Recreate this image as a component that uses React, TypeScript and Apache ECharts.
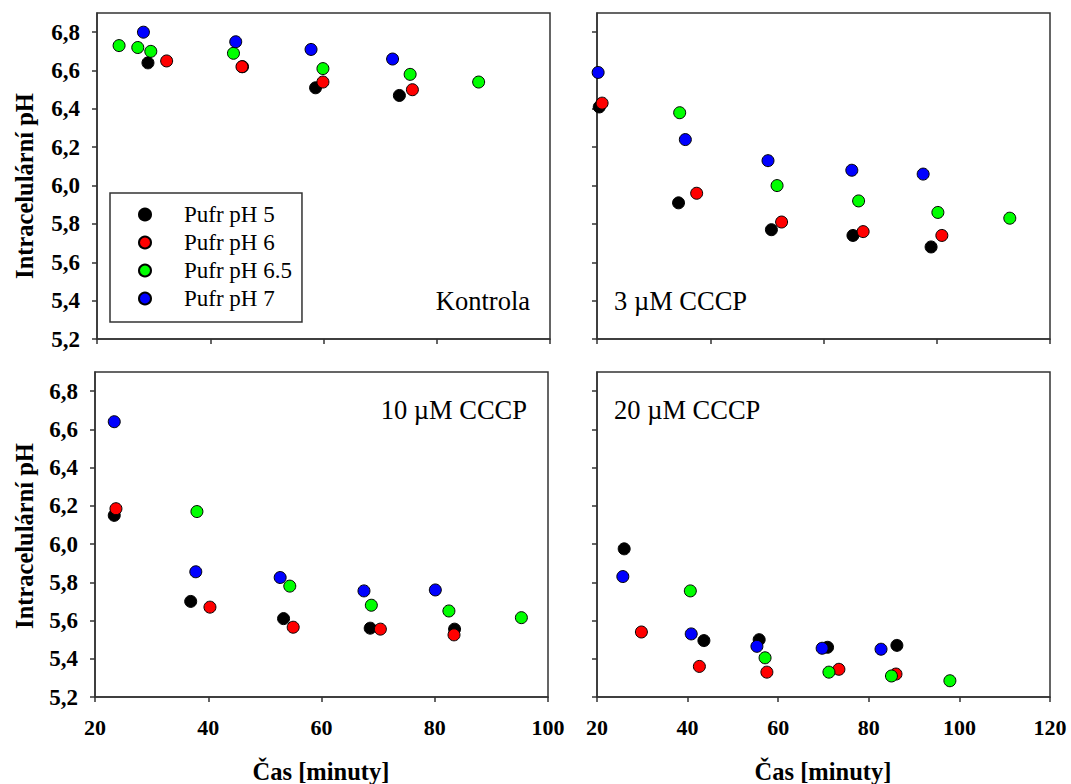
import React, { useEffect, useRef } from "react";
import * as echarts from "echarts";

// ---------- data ----------
const bufferNames = ["Pufr pH 5", "Pufr pH 6", "Pufr pH 6.5", "Pufr pH 7"];
const bufferColors = ["#000000", "#ff0000", "#00ff00", "#0000ff"];
const panelLabels = ["Kontrola", "3 µM CCCP", "10 µM CCCP", "20 µM CCCP"];
const yTitle = "Intracelulární pH";
const xTitle = "Čas [minuty]";
const yTickValues = [5.2, 5.4, 5.6, 5.8, 6.0, 6.2, 6.4, 6.6, 6.8];
const xTicksShort = [20, 40, 60, 80, 100];
const xTicksLong = [20, 40, 60, 80, 100, 120];

// Kontrola
const ctrlT5 = [29.0, 45.7, 58.6, 73.4];
const ctrlV5 = [6.64, 6.62, 6.51, 6.47];
const ctrlT6 = [32.3, 45.6, 59.9, 75.7];
const ctrlV6 = [6.65, 6.62, 6.54, 6.5];
const ctrlT65 = [23.9, 27.2, 29.5, 44.1, 59.9, 75.3, 87.4];
const ctrlV65 = [6.73, 6.72, 6.7, 6.69, 6.61, 6.58, 6.54];
const ctrlT7 = [28.2, 44.5, 57.8, 72.2];
const ctrlV7 = [6.8, 6.75, 6.71, 6.66];

// 3 uM CCCP
const c3T5 = [20.4, 34.4, 50.8, 65.2, 79.0];
const c3V5 = [6.41, 5.91, 5.77, 5.74, 5.68];
const c3T6 = [20.9, 37.6, 52.6, 67.0, 80.9];
const c3V6 = [6.43, 5.96, 5.81, 5.76, 5.74];
const c3T65 = [34.6, 51.8, 66.2, 80.2, 92.9];
const c3V65 = [6.38, 6.0, 5.92, 5.86, 5.83];
const c3T7 = [20.2, 35.6, 50.2, 65.0, 77.6];
const c3V7 = [6.59, 6.24, 6.13, 6.08, 6.06];

// 10 uM CCCP
const c10T5 = [23.4, 36.9, 53.3, 68.6, 83.5];
const c10V5 = [6.15, 5.7, 5.61, 5.56, 5.555];
const c10T6 = [23.7, 40.3, 55.0, 70.4, 83.4];
const c10V6 = [6.185, 5.67, 5.565, 5.555, 5.525];
const c10T65 = [38.0, 54.4, 68.8, 82.5, 95.3];
const c10V65 = [6.17, 5.78, 5.68, 5.65, 5.615];
const c10T7 = [23.4, 37.8, 52.7, 67.5, 80.1];
const c10V7 = [6.64, 5.855, 5.825, 5.755, 5.76];

// 20 uM CCCP
const c20T5 = [26.0, 43.6, 55.8, 70.9, 86.2];
const c20V5 = [5.975, 5.495, 5.5, 5.46, 5.47];
const c20T6 = [29.8, 42.6, 57.5, 73.4, 86.0];
const c20V6 = [5.54, 5.36, 5.33, 5.345, 5.32];
const c20T65 = [40.6, 57.1, 71.2, 85.0, 97.9];
const c20V65 = [5.755, 5.405, 5.33, 5.31, 5.285];
const c20T7 = [25.7, 40.8, 55.3, 69.7, 82.7];
const c20V7 = [5.83, 5.53, 5.465, 5.455, 5.45];

const panels = [
  [[ctrlT5, ctrlV5], [ctrlT6, ctrlV6], [ctrlT65, ctrlV65], [ctrlT7, ctrlV7]],
  [[c3T5, c3V5], [c3T6, c3V6], [c3T65, c3V65], [c3T7, c3V7]],
  [[c10T5, c10V5], [c10T6, c10V6], [c10T65, c10V65], [c10T7, c10V7]],
  [[c20T5, c20V5], [c20T6, c20V6], [c20T65, c20V65], [c20T7, c20V7]],
];

const SERIF = "'Liberation Serif', 'Times New Roman', serif";
const AXIS_COLOR = "#333";

export default function App() {
  const ref = useRef<HTMLDivElement>(null);

  useEffect(() => {
    if (!ref.current) return;
    const chart = echarts.init(ref.current, undefined, { renderer: "svg" });

    const grids = [
      { left: 97, top: 13, width: 453, height: 326 },
      { left: 597, top: 13, width: 453, height: 326 },
      { left: 95, top: 372, width: 453, height: 325 },
      { left: 597, top: 372, width: 453, height: 325 },
    ].map((g) => ({
      ...g,
      show: true,
      borderColor: AXIS_COLOR,
      borderWidth: 1.5,
      backgroundColor: "transparent",
    }));

    const xMax = [100, 100, 100, 120];
    const xAxes = grids.map((_, i) => {
      const bottomRow = i >= 2;
      const ticks = xMax[i] === 120 ? xTicksLong : xTicksShort;
      return {
        type: "value",
        gridIndex: i,
        min: 20,
        max: xMax[i],
        interval: 20,
        axisLine: { show: true, lineStyle: { color: AXIS_COLOR, width: 1.5 } },
        axisTick: {
          show: true,
          inside: false,
          length: 5,
          customValues: ticks,
          lineStyle: { color: AXIS_COLOR, width: 1.5 },
        },
        splitLine: { show: false },
        axisLabel: {
          show: bottomRow,
          customValues: ticks,
          margin: 19,
          fontFamily: SERIF,
          fontWeight: "bold",
          fontSize: 22,
          color: "#000",
        },
      };
    });

    const yAxes = grids.map((_, i) => {
      const leftCol = i % 2 === 0;
      return {
        type: "value",
        gridIndex: i,
        min: 5.2,
        max: 6.9,
        interval: 0.2,
        axisLine: { show: true, lineStyle: { color: AXIS_COLOR, width: 1.5 } },
        axisTick: {
          show: true,
          inside: false,
          length: 5,
          customValues: yTickValues,
          lineStyle: { color: AXIS_COLOR, width: 1.5 },
        },
        splitLine: { show: false },
        axisLabel: {
          show: leftCol,
          customValues: yTickValues,
          margin: 17,
          fontFamily: SERIF,
          fontWeight: "bold",
          fontSize: 23,
          color: "#000",
          formatter: (v: number) => v.toFixed(1).replace(".", ","),
        },
      };
    });

    const series: any[] = [];
    panels.forEach((panel, pi) => {
      panel.forEach(([ts, vs], bi) => {
        series.push({
          type: "scatter",
          name: bufferNames[bi],
          xAxisIndex: pi,
          yAxisIndex: pi,
          symbol: "circle",
          symbolSize: 12,
          itemStyle: {
            color: bufferColors[bi],
            borderColor: "#000",
            borderWidth: 1,
            opacity: 1,
          },
          emphasis: { disabled: true },
          data: ts.map((t, k) => [t, vs[k]]),
        });
      });
    });

    const labelStyle = {
      fontFamily: SERIF,
      fontSize: 26.5,
      fill: "#000",
    };
    const titleStyle = {
      fontFamily: SERIF,
      fontSize: 24.5,
      fontWeight: "bold",
      fill: "#000",
      align: "center",
      verticalAlign: "middle",
    };

    chart.setOption({
      animation: false,
      backgroundColor: "#fff",
      grid: grids,
      xAxis: xAxes,
      yAxis: yAxes,
      series,
      legend: {
        show: true,
        data: bufferNames,
        orient: "vertical",
        left: 110,
        top: 193,
        itemWidth: 68,
        itemHeight: 12,
        itemGap: 5,
        icon: "circle",
        padding: [10, 10, 12, 28],
        borderColor: AXIS_COLOR,
        borderWidth: 1.5,
        selectedMode: false,
        textStyle: {
          fontFamily: SERIF,
          fontSize: 23,
          lineHeight: 23,
          color: "#000",
        },
      },
      graphic: [
        {
          type: "text",
          right: 1071 - 530,
          top: 287,
          style: { ...labelStyle, text: panelLabels[0] },
        },
        {
          type: "text",
          left: 614,
          top: 287,
          style: { ...labelStyle, text: panelLabels[1] },
        },
        {
          type: "text",
          right: 1071 - 527,
          top: 396,
          style: { ...labelStyle, text: panelLabels[2] },
        },
        {
          type: "text",
          left: 614,
          top: 396,
          style: { ...labelStyle, text: panelLabels[3] },
        },
        {
          type: "text",
          x: 24,
          y: 186,
          rotation: Math.PI / 2,
          style: { ...titleStyle, text: yTitle },
        },
        {
          type: "text",
          x: 24,
          y: 536,
          rotation: Math.PI / 2,
          style: { ...titleStyle, text: yTitle },
        },
        {
          type: "text",
          x: 321,
          y: 771,
          style: { ...titleStyle, text: xTitle },
        },
        {
          type: "text",
          x: 823,
          y: 771,
          style: { ...titleStyle, text: xTitle },
        },
      ],
    });

    return () => chart.dispose();
  }, []);

  return (
    <div
      ref={ref}
      style={{ position: "absolute", left: 0, top: 0, width: 1071, height: 784 }}
    />
  );
}
